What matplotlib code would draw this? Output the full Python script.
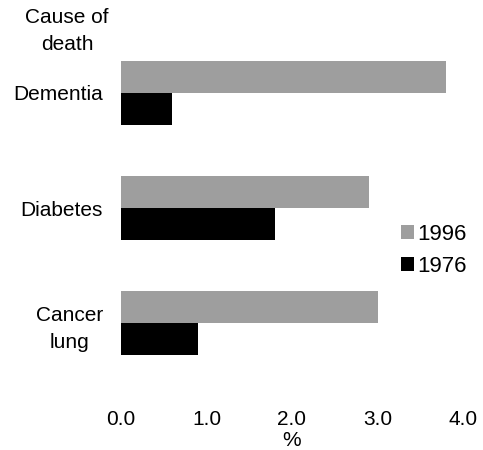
import matplotlib

matplotlib.use("Agg")
import matplotlib.pyplot as plt
from matplotlib.patches import Patch

plt.rcParams["font.family"] = ["Liberation Sans", "DejaVu Sans"]

causes = ["Dementia", "Diabetes", "Cancer\nlung"]
years = ["1996", "1976"]
pct_1996 = [3.8, 2.9, 3.0]
pct_1976 = [0.6, 1.8, 0.9]
x_ticks = [0.0, 1.0, 2.0, 3.0, 4.0]

W, H = 483, 450
fig = plt.figure(figsize=(W / 100, H / 100), dpi=100)

# axes placed in pixels: x=0 at 121px, x=4 at 463px; group rows 115px apart
left, right = 121, 463
top, bottom = 50, 395
ax = fig.add_axes([left / W, 1 - bottom / H, (right - left) / W, (bottom - top) / H])

grey = "#9e9e9e"
black = "#000000"
bar_h = 0.28
pos = list(range(len(causes)))

ax.barh([p - bar_h / 2 for p in pos], pct_1996, height=bar_h, color=grey)
ax.barh([p + bar_h / 2 for p in pos], pct_1976, height=bar_h, color=black)

ax.set_xlim(0, 4)
ax.set_ylim(2 + (bottom - 323) / 115, -(93 - top) / 115)

ax.set_xticks(x_ticks)
ax.set_xticklabels([f"{v:.1f}" for v in x_ticks], fontsize=15)
ax.set_yticks(pos)
ax.set_yticklabels(causes, fontsize=15)
for lbl in ax.get_yticklabels():
    lbl.set_multialignment("center")
    lbl.set_linespacing(1.5)
ax.tick_params(axis="both", length=0)
ax.tick_params(axis="y", pad=13)
ax.tick_params(axis="x", pad=11)

for s in ax.spines.values():
    s.set_visible(False)

ax.set_xlabel("%", fontsize=15, labelpad=1)

fig.text(67 / W, 1 - 31 / H, "Cause of\ndeath", ha="center", va="center",
         fontsize=15, multialignment="center", linespacing=1.5)

handles = [Patch(facecolor=grey), Patch(facecolor=black)]
fig.legend(handles, years, loc="upper left", frameon=False, fontsize=16,
           bbox_to_anchor=(401 / W, 1 - 224 / H), bbox_transform=fig.transFigure,
           borderaxespad=0, borderpad=0, handlelength=0.6, handleheight=0.6,
           handletextpad=0.15, labelspacing=0.5)

fig.savefig("out.png", dpi=100)
